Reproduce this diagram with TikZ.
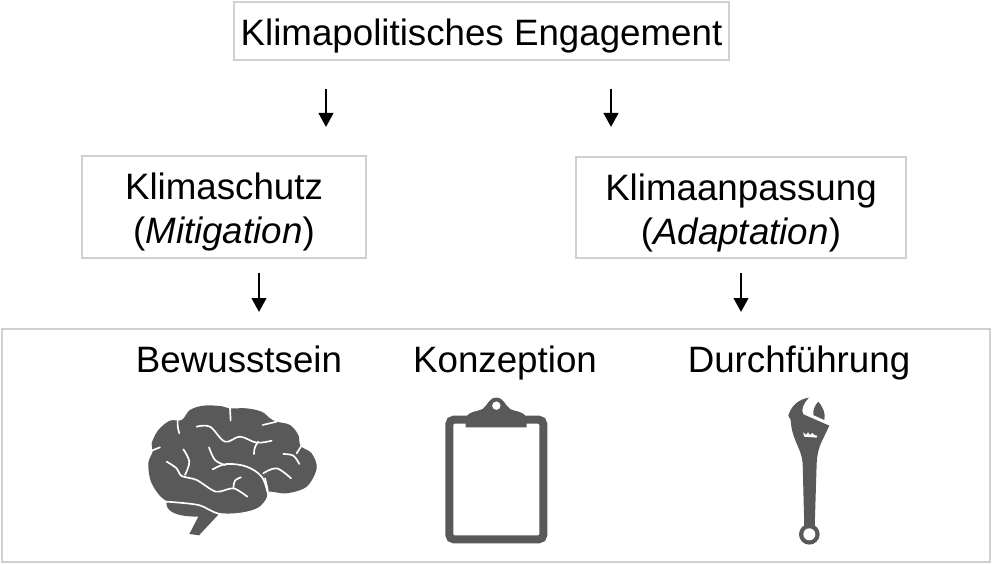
\documentclass[tikz,border=0pt]{standalone}
\usepackage{fontspec}
\setmainfont{Liberation Sans}
\usetikzlibrary{arrows.meta,positioning}
\definecolor{klimaGray}{RGB}{89, 89, 89}
\definecolor{klimaFrame}{RGB}{208, 208, 208}
\newcommand{\klimastrut}{\rule{0pt}{21pt}}
\begin{document}
\begin{tikzpicture}[
  x=0.02cm,y=-0.02cm,
  box/.style={
    draw=klimaFrame,
    line width=0.8pt,
    inner sep=0pt,
    align=center,
    font=\fontsize{20.9}{25}\selectfont
  },
  label/.style={
    inner sep=0pt,
    anchor=base,
    font=\fontsize{20.9}{25}\selectfont
  },
  arrow/.style={-{Triangle[length=2.8mm,width=2.9mm]},line width=1.5pt,black},
  icon/.style={x=0.02cm/3,y=-0.02cm/3},
  sulcus/.style={draw=white,line width=0.95pt,line cap=round,line join=round}
]
  \useasboundingbox (0,0) rectangle (992,564);
  \node[box,minimum width=9.9cm,minimum height=1.16cm] (engagement) at (481.5,31)
    {\klimastrut Klimapolitisches Engagement};
  \node[box,minimum width=5.68cm,minimum height=2.04cm] (schutz) at (224,207)
    {\klimastrut Klimaschutz\\(\textit{Mitigation})};
  \node[box,minimum width=6.6cm,minimum height=2.02cm] (anpassung) at (741,207.5)
    {\klimastrut Klimaanpassung\\(\textit{Adaptation})};
  \node[box,minimum width=19.76cm,minimum height=4.66cm] (frame) at (496,445.5) {};
  \node[label] (bewusstsein) at (239,373) {Bewusstsein};
  \node[label] (konzeption) at (505,373) {Konzeption};
  \node[label] (durchfuehrung) at (799,373) {Durchführung};

  % arrows
  \coordinate (a1) at (326,89);
  \coordinate (a2) at (326,127);
  \coordinate (b1) at (611,89);
  \coordinate (b2) at (611,127);
  \coordinate (c1) at (259,273);
  \coordinate (c2) at (259,312);
  \coordinate (d1) at (741,273);
  \coordinate (d2) at (741,312);
  \draw[arrow] (a1) -- (a2);
  \draw[arrow] (b1) -- (b2);
  \draw[arrow] (c1) -- (c2);
  \draw[arrow] (d1) -- (d2);

  % brain
  \begin{scope}[shift={(130,390)},icon]
    \fill[klimaGray] (110,333) .. controls (105,358) and (125,380) .. (205,380)
      -- (178,432) -- (207,436) -- (265,374) -- (205,340) -- cycle;
    \fill[klimaGray] plot[smooth cycle,tension=0.55] coordinates {
      (265,372) (330,370) (385,355) (412,322) (418,305) (470,310) (530,290)
      (560,235) (545,190) (512,168) (505,135) (480,105) (440,95) (420,85)
      (395,65) (350,55) (300,55) (270,48) (220,47) (180,60) (155,90) (120,92)
      (85,120) (65,160) (68,185) (55,220) (65,280) (110,333) (200,345)};
    \draw[sulcus] (300,55) -- (302,92);
    \draw[sulcus] (143,92) to[bend right=10] (148,130);
    \draw[sulcus] (65,182) -- (90,172);
    \draw[sulcus] plot[smooth,tension=0.6] coordinates {
      (200,110) (240,110) (285,155) (330,140) (380,158) (425,152)};
    \draw[sulcus] (385,155) to[bend right=20] (372,192);
    \draw[sulcus] (398,105) -- (440,95);
    \draw[sulcus] (514,168) -- (500,190);
    \draw[sulcus] plot[smooth,tension=0.6] coordinates {(460,192) (490,197) (508,222)};
    \draw[sulcus] plot[smooth,tension=0.6] coordinates {(237,172) (255,210) (285,225)};
    \draw[sulcus] plot[smooth,tension=0.6] coordinates {
      (248,238) (290,222) (350,230) (395,260) (412,305)};
    \draw[sulcus] plot[smooth,tension=0.6] coordinates {(400,250) (440,235) (483,265)};
    \draw[sulcus] plot[smooth,tension=0.6] coordinates {(160,178) (178,215) (165,255)};
    \draw[sulcus] plot[smooth,tension=0.5] coordinates {
      (110,215) (140,235) (155,258) (200,270) (258,305) (310,295) (352,320)};
    \draw[sulcus] plot[smooth,tension=0.6] coordinates {(310,295) (315,272) (333,262)};
    \draw[sulcus] plot[smooth,tension=0.5] coordinates {
      (110,335) (205,345) (265,371) (330,371) (385,356) (414,320) (405,265)};
  \end{scope}

  % clipboard
  \begin{scope}[shift={(430,385)},icon]
    \draw[klimaGray,line width=1.6mm,rounded corners=0.9mm] (58,104) rectangle (340,463);
    \fill[klimaGray,even odd rule] (107,127) -- (290,127) -- (290,97)
      .. controls (280,78) and (255,80) .. (240,72)
      .. controls (225,62) and (222,38) .. (199,38)
      .. controls (176,38) and (173,62) .. (158,72)
      .. controls (143,80) and (117,78) .. (107,97) -- cycle
      (199,62) circle[radius=13];
  \end{scope}

  % wrench
  \begin{scope}[shift={(770,385)},icon]
    \fill[klimaGray] (118,448) circle[radius=31];
    \fill[klimaGray] (103,430) -- (98,235)
      .. controls (95,190) and (65,165) .. (62,105) -- (55,92)
      .. controls (62,65) and (85,42) .. (117,38)
      .. controls (100,55) and (92,75) .. (100,88)
      -- (178,122) -- (156,168)
      .. controls (145,190) and (141,215) .. (140,235) -- (134,430) -- cycle;
    \fill[white] (118,448) circle[radius=18];
    \fill[klimaGray] (145,50) .. controls (158,65) and (168,85) .. (163,105)
      -- (130,90) .. controls (128,75) and (135,60) .. (145,50) -- cycle;
    \fill[white] (100,142) -- (108,150) -- (114,142) -- (120,150) -- (127,144)
      -- (133,150) -- (141,152) -- (140,158) -- (102,155) -- cycle;
  \end{scope}
\end{tikzpicture}
\end{document}
